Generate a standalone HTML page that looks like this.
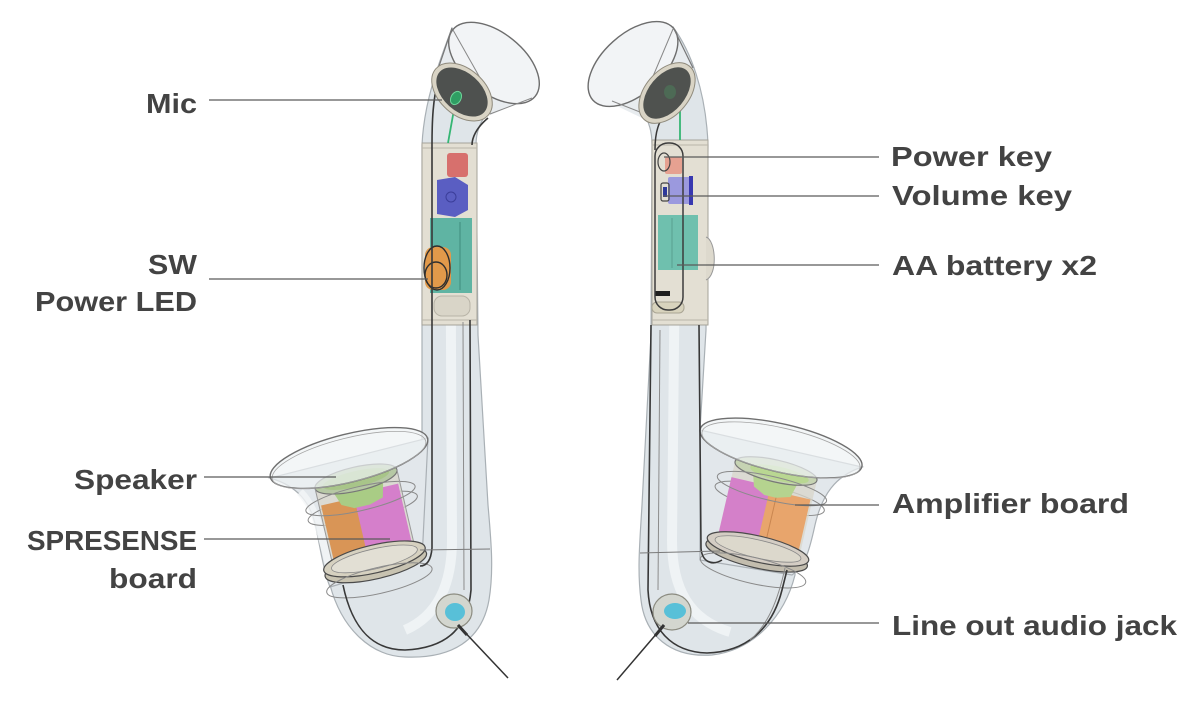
<!DOCTYPE html>
<html><head><meta charset="utf-8"><style>
html,body{margin:0;padding:0;background:#fff;}
svg{display:block;}
text{font-family:"Liberation Sans",Arial,sans-serif;font-weight:bold;fill:#434343;font-size:28px;}
</style></head><body>
<svg width="1200" height="708" viewBox="0 0 1200 708" xmlns="http://www.w3.org/2000/svg">
<rect width="1200" height="708" fill="#fff"/>

<!-- ============ LEFT SAX ============ -->
<!-- tube incl. neck -->
<path d="M452,28 C440,60 424,100 422,145 L422,440 L330,470 L330,585 C342,630 372,656 405,657 C452,659 482,640 489,600 C494,570 491,540 488,505 L478,335 L476,145 C476,132 480,122 488,112 L520,100 Z" fill="#dfe5e9" stroke="#a9b0b5" stroke-width="1.2"/>
<path d="M450,150 L452,540 C452,580 440,615 405,630" fill="none" stroke="#f3f6f7" stroke-width="10" opacity="0.8"/>
<!-- funnel -->
<polygon points="452,28 437,70 483,118 534,97" fill="#e8ecef"/>
<ellipse cx="494" cy="63" rx="53" ry="30" transform="rotate(39 494 63)" fill="#f2f4f6" stroke="#6d6d6d" stroke-width="1.4"/>
<line x1="452" y1="28" x2="437" y2="72" stroke="#777" stroke-width="1.2"/>
<line x1="453" y1="30" x2="488" y2="92" stroke="#888" stroke-width="1"/>
<line x1="532" y1="98" x2="490" y2="114" stroke="#888" stroke-width="1"/>
<!-- bell -->
<path d="M270,478 C298,486 311,503 316,528 C321,552 324,572 330,587 L422,560 L428,438 Z" fill="#e2e7eb" stroke="#aab0b5" stroke-width="1.2"/>
<path d="M300,492 C318,510 322,540 332,575" fill="none" stroke="#f4f6f8" stroke-width="8" opacity="0.8"/>
<!-- module -->
<rect x="422" y="143" width="55" height="182" fill="#e3dfd3" stroke="#a6a39a" stroke-width="1"/>
<line x1="422" y1="148" x2="477" y2="148" stroke="#b9b5aa"/>
<line x1="422" y1="320" x2="477" y2="320" stroke="#b9b5aa"/>
<rect x="447" y="153" width="21" height="24" rx="3" fill="#d7706d"/>
<path d="M437,180 L455,177 L468,185 L468,210 L455,217 L437,214 Z" fill="#5a5ec2"/>
<circle cx="451" cy="197" r="5" fill="none" stroke="#3b3e9a"/>
<rect x="430" y="218" width="42" height="75" fill="#5fb4a3"/>
<line x1="460" y1="222" x2="460" y2="290" stroke="#3f8c7e" stroke-width="1"/>
<rect x="425" y="247" width="26" height="43" rx="8" fill="#e1994a"/>
<ellipse cx="437" cy="268" rx="13" ry="22" fill="none" stroke="#2e2e2e" stroke-width="1.4"/>
<ellipse cx="436" cy="275" rx="11" ry="13" fill="none" stroke="#2e2e2e" stroke-width="1.4"/>
<rect x="434" y="296" width="36" height="20" rx="8" fill="#d9d5c8" stroke="#b8b4a7"/>
<!-- green wire -->
<line x1="455" y1="104" x2="448" y2="143" stroke="#35b673" stroke-width="1.8"/>
<!-- cylinder -->
<g transform="translate(365,518) rotate(-13)">
  <ellipse cx="0" cy="-10" rx="56" ry="12" fill="none" stroke="#8a8a8a" stroke-width="1"/>
  <rect x="-42" y="-40" width="84" height="82" fill="#d8d5ca" opacity="0.75"/>
  <rect x="-40" y="-22" width="38" height="64" fill="#d99556"/>
  <rect x="-6" y="-26" width="46" height="66" fill="#d57fcb"/>
  <path d="M-28,-40 L28,-40 L22,-16 L8,-12 L-8,-12 L-20,-18 Z" fill="#a9cc85"/>
  <ellipse cx="0" cy="-40" rx="42" ry="12" fill="#b6c8a4" stroke="#777" stroke-width="1.2"/>
  <ellipse cx="0" cy="-40" rx="34" ry="8" fill="#a3c37e" opacity="0.7"/>
  <ellipse cx="0" cy="-20" rx="56" ry="12" fill="none" stroke="#8a8a8a" stroke-width="1"/>
  <line x1="-42" y1="-40" x2="-42" y2="42" stroke="#999"/>
  <line x1="42" y1="-40" x2="42" y2="42" stroke="#999"/>
  <ellipse cx="0" cy="48" rx="52" ry="14" fill="#c8c3b1" stroke="#4a4a4a" stroke-width="1.2"/>
  <ellipse cx="0" cy="42" rx="52" ry="14" fill="#d6d1c0" stroke="#4a4a4a" stroke-width="1.2"/>
  <ellipse cx="0" cy="42" rx="44" ry="10" fill="#e2dfd4" stroke="#888" stroke-width="0.8"/>
  <ellipse cx="0" cy="64" rx="54" ry="13" fill="none" stroke="#8a8a8a" stroke-width="1"/>
</g>
<!-- bell rim -->
<ellipse cx="349" cy="458" rx="81" ry="24" transform="rotate(-14 349 458)" fill="#eef2f4" fill-opacity="0.7" stroke="#6f6f6f" stroke-width="1.4"/>
<ellipse cx="349" cy="460" rx="79" ry="22" transform="rotate(-14 349 460)" fill="none" stroke="#a5a5a5" stroke-width="0.8"/>
<!-- wires -->
<path d="M438,80 C433,100 432,120 432,145 L432,548 C431,560 427,566 420,566" fill="none" stroke="#383838" stroke-width="1.6"/>
<path d="M488,118 C476,128 472,138 472,145 M470,320 L471,590 C468,625 450,648 405,650 C372,650 352,628 343,585" fill="none" stroke="#383838" stroke-width="1.6"/>
<path d="M463,322 L464,590" fill="none" stroke="#8c8c8c" stroke-width="1"/>
<line x1="420" y1="550" x2="490" y2="549" stroke="#7a7a7a" stroke-width="1"/>
<!-- mic disc -->
<ellipse cx="462" cy="92" rx="35" ry="23" transform="rotate(42 462 92)" fill="#d9d4c5" stroke="#8f8a7c" stroke-width="1"/>
<ellipse cx="462" cy="92" rx="30" ry="19" transform="rotate(42 462 92)" fill="#4e514f"/>
<ellipse cx="456" cy="98" rx="5" ry="7" transform="rotate(30 456 98)" fill="#2f9e63" stroke="#6fd49a" stroke-width="1"/>
<!-- jack -->
<ellipse cx="454" cy="611" rx="18" ry="17" fill="#d3d6cf" stroke="#8b8b80" stroke-width="1.2"/>
<ellipse cx="455" cy="612" rx="10" ry="9" fill="#58c0d8"/>
<line x1="458" y1="625" x2="467" y2="635" stroke="#333" stroke-width="3"/>
<line x1="458" y1="625" x2="508" y2="678" stroke="#333" stroke-width="1.5"/>

<!-- ============ RIGHT SAX ============ -->
<path d="M673,27 C690,50 706,90 708,145 L706,330 L700,430 L795,470 L795,575 C785,615 755,650 712,655 C670,658 645,635 641,600 C637,570 640,540 642,505 L651,335 L652,145 C652,133 650,125 646,118 L610,100 Z" fill="#dfe5e9" stroke="#a9b0b5" stroke-width="1.2"/>
<path d="M676,150 L672,540 C672,590 690,620 730,632" fill="none" stroke="#f3f6f7" stroke-width="10" opacity="0.8"/>
<polygon points="596,96 673,27 693,68 642,118" fill="#e8ecef"/>
<ellipse cx="633" cy="64" rx="54" ry="30" transform="rotate(-42 633 64)" fill="#f2f4f6" stroke="#6d6d6d" stroke-width="1.4"/>
<line x1="673" y1="27" x2="693" y2="68" stroke="#777" stroke-width="1.2"/>
<line x1="673" y1="29" x2="643" y2="100" stroke="#888" stroke-width="1"/>
<line x1="612" y1="101" x2="645" y2="114" stroke="#888" stroke-width="1"/>
<path d="M862,467 C835,476 822,495 815,525 C810,548 806,565 792,575 L700,560 L700,430 Z" fill="#e2e7eb" stroke="#aab0b5" stroke-width="1.2"/>
<!-- module -->
<rect x="652" y="140" width="56" height="185" fill="#e3dfd3" stroke="#a6a39a" stroke-width="1"/>
<line x1="652" y1="145" x2="708" y2="145" stroke="#b9b5aa"/>
<line x1="652" y1="320" x2="708" y2="320" stroke="#b9b5aa"/>
<rect x="665" y="157" width="17" height="17" rx="2" fill="#e6a191"/>
<ellipse cx="664" cy="162" rx="6" ry="9" fill="none" stroke="#444" stroke-width="1.2"/>
<rect x="668" y="177" width="24" height="27" rx="2" fill="#9b99de"/>
<path d="M689,177 L692,177 L692,204 L689,204" fill="#3838b0" stroke="#3838b0" stroke-width="2"/>
<rect x="661" y="183" width="8" height="18" rx="2" fill="none" stroke="#444" stroke-width="1.2"/>
<rect x="663" y="187" width="4" height="10" fill="#2f3a9a"/>
<rect x="658" y="215" width="40" height="55" fill="#6fc0ae"/>
<line x1="672" y1="218" x2="672" y2="268" stroke="#58a190" stroke-width="1"/>
<path d="M706,237 C716,240 718,275 706,280" fill="#ddd9cd" stroke="#999" stroke-width="1"/>
<rect x="655" y="291" width="15" height="5" fill="#1f1f1f"/>
<rect x="652" y="302" width="32" height="11" rx="5" fill="#d8d3bd" stroke="#aaa594"/>
<rect x="655" y="143" width="28" height="167" rx="13" fill="none" stroke="#3c3c3c" stroke-width="1.5"/>
<line x1="680" y1="100" x2="680" y2="140" stroke="#35b673" stroke-width="1.8"/>
<!-- cylinder -->
<g transform="translate(767,510) rotate(13)">
  <ellipse cx="0" cy="-12" rx="56" ry="12" fill="none" stroke="#8a8a8a" stroke-width="1"/>
  <rect x="-42" y="-40" width="84" height="82" fill="#d8d5ca" opacity="0.75"/>
  <rect x="-42" y="-24" width="44" height="64" fill="#d480c9"/>
  <rect x="-2" y="-20" width="42" height="64" fill="#e8a56c"/>
  <line x1="6" y1="-18" x2="6" y2="42" stroke="#c98650"/>
  <path d="M-24,-40 L26,-40 L20,-18 L6,-14 L-6,-14 L-18,-20 Z" fill="#b5d38f"/>
  <ellipse cx="0" cy="-40" rx="42" ry="11" fill="#c6d3b3" stroke="#777" stroke-width="1.2"/>
  <ellipse cx="4" cy="-38" rx="30" ry="7" fill="#b5d88a" opacity="0.8"/>
  <ellipse cx="0" cy="-22" rx="56" ry="12" fill="none" stroke="#8a8a8a" stroke-width="1"/>
  <ellipse cx="0" cy="46" rx="52" ry="13" fill="#c3bdae" stroke="#4a4a4a" stroke-width="1.2"/>
  <ellipse cx="0" cy="40" rx="52" ry="13" fill="#d4cdc4" stroke="#4a4a4a" stroke-width="1.2"/>
  <ellipse cx="0" cy="40" rx="44" ry="9" fill="#dcd8cc" stroke="#888" stroke-width="0.8"/>
  <ellipse cx="0" cy="62" rx="54" ry="13" fill="none" stroke="#8a8a8a" stroke-width="1"/>
</g>
<ellipse cx="781" cy="448" rx="83" ry="24" transform="rotate(13 781 448)" fill="#eef2f4" fill-opacity="0.7" stroke="#6f6f6f" stroke-width="1.4"/>
<ellipse cx="781" cy="450" rx="81" ry="22" transform="rotate(13 781 450)" fill="none" stroke="#a5a5a5" stroke-width="0.8"/>
<!-- wires -->
<path d="M660,122 C656,130 655,140 655,150" fill="none" stroke="#383838" stroke-width="1.5"/>
<path d="M651,325 L648,590 C650,630 672,652 707,653 C745,652 772,630 782,590 L787,570" fill="none" stroke="#383838" stroke-width="1.6"/>
<path d="M699,325 L701,548 C702,562 712,566 722,560" fill="none" stroke="#383838" stroke-width="1.6"/>
<path d="M660,330 L658,590" fill="none" stroke="#8c8c8c" stroke-width="1"/>
<path d="M785,568 C778,600 768,625 750,640" fill="none" stroke="#8c8c8c" stroke-width="1"/>
<line x1="640" y1="553" x2="720" y2="551" stroke="#7a7a7a" stroke-width="1"/>
<!-- mic disc -->
<ellipse cx="667" cy="93" rx="35" ry="22" transform="rotate(-50 667 93)" fill="#d9d4c5" stroke="#8f8a7c" stroke-width="1"/>
<ellipse cx="667" cy="93" rx="30" ry="18" transform="rotate(-50 667 93)" fill="#4f524f"/>
<ellipse cx="670" cy="92" rx="6" ry="7" fill="#4d6a55"/>
<!-- jack -->
<ellipse cx="672" cy="612" rx="19" ry="18" fill="#d3d6cf" stroke="#8b8b80" stroke-width="1.2"/>
<ellipse cx="675" cy="611" rx="11" ry="8" fill="#58c0d8"/>
<line x1="664" y1="625" x2="655" y2="636" stroke="#333" stroke-width="3"/>
<line x1="664" y1="625" x2="617" y2="680" stroke="#333" stroke-width="1.5"/>

<!-- ============ LEADER LINES ============ -->
<g stroke="#5a5a5a" stroke-width="1.3">
<line x1="209" y1="100" x2="442" y2="100"/>
<line x1="209" y1="279" x2="428" y2="279"/>
<line x1="204" y1="477" x2="336" y2="477"/>
<line x1="204" y1="539" x2="390" y2="539"/>
<line x1="664" y1="157" x2="879" y2="157"/>
<line x1="663" y1="196" x2="879" y2="196"/>
<line x1="677" y1="265" x2="879" y2="265"/>
<line x1="795" y1="505" x2="879" y2="505"/>
<line x1="688" y1="623" x2="879" y2="623"/>
</g>

<!-- ============ LABELS ============ -->
<text x="197" y="113" text-anchor="end" textLength="51" lengthAdjust="spacingAndGlyphs">Mic</text>
<text x="197" y="274" text-anchor="end" textLength="49" lengthAdjust="spacingAndGlyphs">SW</text>
<text x="197" y="311" text-anchor="end" textLength="162" lengthAdjust="spacingAndGlyphs">Power LED</text>
<text x="197" y="489" text-anchor="end" textLength="123" lengthAdjust="spacingAndGlyphs">Speaker</text>
<text x="197" y="550" text-anchor="end" textLength="170" lengthAdjust="spacingAndGlyphs">SPRESENSE</text>
<text x="197" y="588" text-anchor="end" textLength="88" lengthAdjust="spacingAndGlyphs">board</text>
<text x="891" y="166" textLength="161" lengthAdjust="spacingAndGlyphs">Power key</text>
<text x="892" y="205" textLength="180" lengthAdjust="spacingAndGlyphs">Volume key</text>
<text x="892" y="275" textLength="205" lengthAdjust="spacingAndGlyphs">AA battery x2</text>
<text x="892" y="513" textLength="237" lengthAdjust="spacingAndGlyphs">Amplifier board</text>
<text x="892" y="635" textLength="285" lengthAdjust="spacingAndGlyphs">Line out audio jack</text>
</svg>
</body></html>
